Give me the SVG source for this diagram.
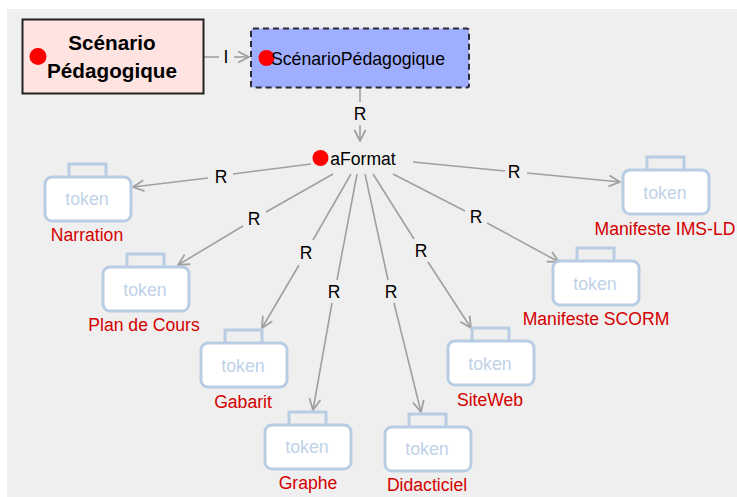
<svg xmlns="http://www.w3.org/2000/svg" width="737" height="497" viewBox="0 0 737 497">
<style>
text{font-family:"Liberation Sans",Arial,sans-serif;text-anchor:middle}
.c{fill:none;stroke:#a0a0a0;stroke-width:1.6}
.r{font-size:17.5px;fill:#000}
.t{font-size:17.8px;fill:#c0d2e8}
.n{font-size:17.6px;fill:#d40000}
.b{fill:#fff;stroke:#b8cde4;stroke-width:3}
.d{fill:#f00}
</style>
<defs>
<marker id="a" viewBox="0 0 14 14" refX="12" refY="7" markerWidth="14" markerHeight="14" markerUnits="userSpaceOnUse" orient="auto"><path d="M1 1.500 L12 7 L1 12.500" fill="none" stroke="#a0a0a0" stroke-width="1.800" stroke-linejoin="round"/></marker>
<g id="tk">
<rect class="b" x="24" y="-13" width="37" height="14" style="fill:none"/>
<rect class="b" x="0" y="0" width="86" height="44" rx="7"/>
</g>
</defs>
<rect x="7" y="9" width="730" height="488" fill="#efefef"/>
<g id="connectors">
<path class="c" d="M204 57H219"/><path class="c" d="M234 57H249" marker-end="url(#a)"/>
<path class="c" d="M360 88V102"/><path class="c" d="M360 125V141" marker-end="url(#a)"/>
<path class="c" d="M311 164L233 174"/><path class="c" d="M208 178L133 187" marker-end="url(#a)"/>
<path class="c" d="M333 174L266 212"/><path class="c" d="M243 226L178 265" marker-end="url(#a)"/>
<path class="c" d="M351 174L313 240"/><path class="c" d="M299 265L262 328" marker-end="url(#a)"/>
<path class="c" d="M357 174L337 280"/><path class="c" d="M332 303L313 410" marker-end="url(#a)"/>
<path class="c" d="M365 174L388 280"/><path class="c" d="M394 303L421 412" marker-end="url(#a)"/>
<path class="c" d="M373 174L414 239"/><path class="c" d="M428 262L471 328" marker-end="url(#a)"/>
<path class="c" d="M393 174L465 211"/><path class="c" d="M487 223L559 262" marker-end="url(#a)"/>
<path class="c" d="M413 162L505 171"/><path class="c" d="M527 173L620 182" marker-end="url(#a)"/>
</g>
<g>
<text class="r" x="226" y="63">I</text>
<text class="r" x="360" y="120">R</text>
<text class="r" x="221" y="183">R</text>
<text class="r" x="254" y="225">R</text>
<text class="r" x="306" y="259">R</text>
<text class="r" x="334" y="298">R</text>
<text class="r" x="391" y="298">R</text>
<text class="r" x="421" y="257">R</text>
<text class="r" x="476" y="223">R</text>
<text class="r" x="514" y="178">R</text>
</g>
<g id="node-scenario">
<rect x="22.500" y="19.500" width="181" height="74" fill="#ffe3e0" stroke="#222" stroke-width="2"/>
<circle class="d" cx="38" cy="56.500" r="8.500"/>
<text x="112" y="50" style="font-size:20.700px;font-weight:bold">Scénario</text>
<text x="112" y="78" style="font-size:20.700px;font-weight:bold">Pédagogique</text>
</g>
<g id="node-scenariopedagogique">
<rect x="251" y="28.500" width="218" height="59" rx="2" fill="#a0aeff" stroke="#2a2a3a" stroke-width="2" stroke-dasharray="6 4"/>
<circle class="d" cx="266.500" cy="58" r="8"/>
<text x="358" y="65" style="font-size:17.700px">ScénarioPédagogique</text>
</g>
<g id="node-aformat">
<circle class="d" cx="320.500" cy="158" r="8"/>
<text x="363" y="165" style="font-size:17.600px">aFormat</text>
</g>
<g id="node-narration"><use href="#tk" x="45" y="177"/><text class="t" x="87" y="205">token</text><text class="n" x="87" y="241">Narration</text></g>
<g id="node-plan"><use href="#tk" x="103" y="267"/><text class="t" x="145" y="296">token</text><text class="n" x="144" y="331">Plan de Cours</text></g>
<g id="node-gabarit"><use href="#tk" x="201" y="343"/><text class="t" x="243" y="372">token</text><text class="n" x="243" y="408">Gabarit</text></g>
<g id="node-graphe"><use href="#tk" x="265" y="425"/><text class="t" x="307" y="453">token</text><text class="n" x="308" y="489">Graphe</text></g>
<g id="node-didacticiel"><use href="#tk" x="385" y="427"/><text class="t" x="427" y="455">token</text><text class="n" x="427" y="491">Didacticiel</text></g>
<g id="node-siteweb"><use href="#tk" x="448" y="341"/><text class="t" x="490" y="370">token</text><text class="n" x="490" y="406">SiteWeb</text></g>
<g id="node-scorm"><use href="#tk" x="553" y="261"/><text class="t" x="595" y="290">token</text><text class="n" x="596" y="325">Manifeste SCORM</text></g>
<g id="node-imsld"><use href="#tk" x="623" y="170"/><text class="t" x="665" y="199">token</text><text class="n" x="665" y="235">Manifeste IMS-LD</text></g>
</svg>
